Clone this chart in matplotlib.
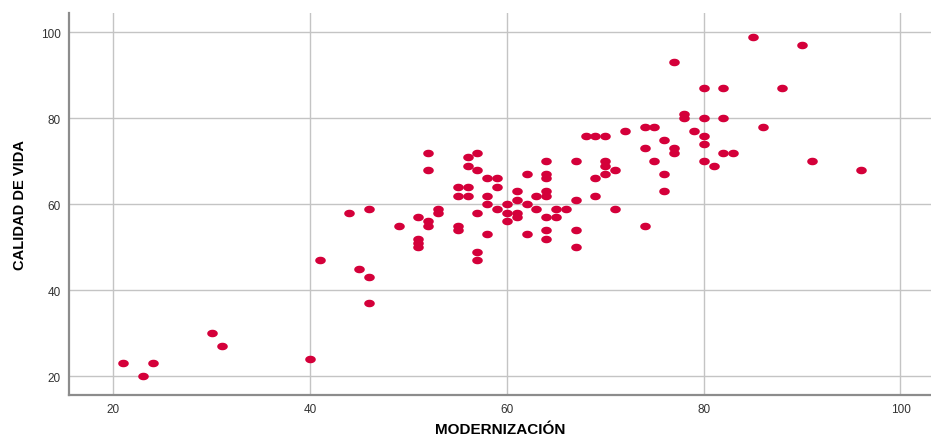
import numpy as np
import matplotlib
matplotlib.use("Agg")
import matplotlib.pyplot as plt
from matplotlib.path import Path

# MODERNIZACION vs CALIDAD DE VIDA
modernizacion = [21, 23, 24, 30, 31, 40, 41, 44, 45, 46, 46, 46, 49,
                 51, 51, 51, 51, 52, 52, 52, 52, 53, 53,
                 55, 55, 55, 55, 56, 56, 56, 56, 57, 57, 57, 57, 57,
                 58, 58, 58, 58, 59, 59, 59, 60, 60, 60,
                 61, 61, 61, 61, 62, 62, 62, 63, 63,
                 64, 64, 64, 64, 64, 64, 64, 64, 65, 65, 66,
                 67, 67, 67, 67, 68, 69, 70, 69, 69, 70, 70, 70, 71, 71,
                 72, 74, 75, 74, 74, 75, 76, 76, 76, 77, 77, 77,
                 78, 78, 79, 80, 80, 80, 80, 80, 81, 82, 82, 82, 83,
                 85, 86, 88, 90, 91, 96]
calidad = [23, 20, 23, 30, 27, 24, 47, 58, 45, 59, 43, 37, 55,
           57, 52, 51, 50, 72, 68, 56, 55, 59, 58,
           64, 62, 55, 54, 71, 69, 64, 62, 72, 68, 58, 49, 47,
           66, 62, 60, 53, 66, 64, 59, 60, 58, 56,
           63, 61, 58, 57, 67, 60, 53, 62, 59,
           70, 67, 66, 63, 62, 57, 54, 52, 59, 57, 59,
           70, 61, 54, 50, 76, 76, 76, 66, 62, 70, 69, 67, 68, 59,
           77, 78, 78, 73, 55, 70, 75, 67, 63, 93, 73, 72,
           81, 80, 77, 87, 80, 76, 74, 70, 69, 87, 80, 72, 72,
           99, 78, 87, 97, 70, 68]

xticks = [20, 40, 60, 80, 100]
yticks = [20, 40, 60, 80, 100]

# slightly flattened dot, like the original export
t = np.linspace(0, 2 * np.pi, 40)
ellipse = Path(np.column_stack([1.4 * np.cos(t), np.sin(t)]), closed=True)

fig = plt.figure(figsize=(9.31, 4.39), dpi=100)
ax = fig.add_axes([0.0741, 0.0979, 0.9259, 0.870])

ax.scatter(modernizacion, calidad, marker=ellipse, s=58, color="#d4003a",
           linewidths=0, zorder=3)

ax.set_xlim(15.5, 103.1)
ax.set_ylim(15.6, 104.5)
ax.set_xticks(xticks)
ax.set_yticks(yticks)
ax.grid(True, color="#c4c4c4", linewidth=1.0)
ax.set_axisbelow(True)
ax.tick_params(length=0, labelsize=8.5, labelcolor="#333333", pad=6)
for lab in ax.get_xticklabels() + ax.get_yticklabels():
    lab.set_family(["Liberation Sans", "DejaVu Sans"])

for side in ["top", "right"]:
    ax.spines[side].set_visible(False)
for side in ["left", "bottom"]:
    ax.spines[side].set_color("#8c8c8c")
    ax.spines[side].set_linewidth(1.6)

ax.set_xlabel("MODERNIZACIÓN", fontsize=11, fontweight="bold",
              family=["Liberation Sans", "DejaVu Sans"], labelpad=5)
ax.set_ylabel("CALIDAD DE VIDA", fontsize=10.5, fontweight="bold",
              family=["Liberation Sans Narrow", "Liberation Sans", "DejaVu Sans"],
              labelpad=10)

fig.savefig("out.png", dpi=100)
